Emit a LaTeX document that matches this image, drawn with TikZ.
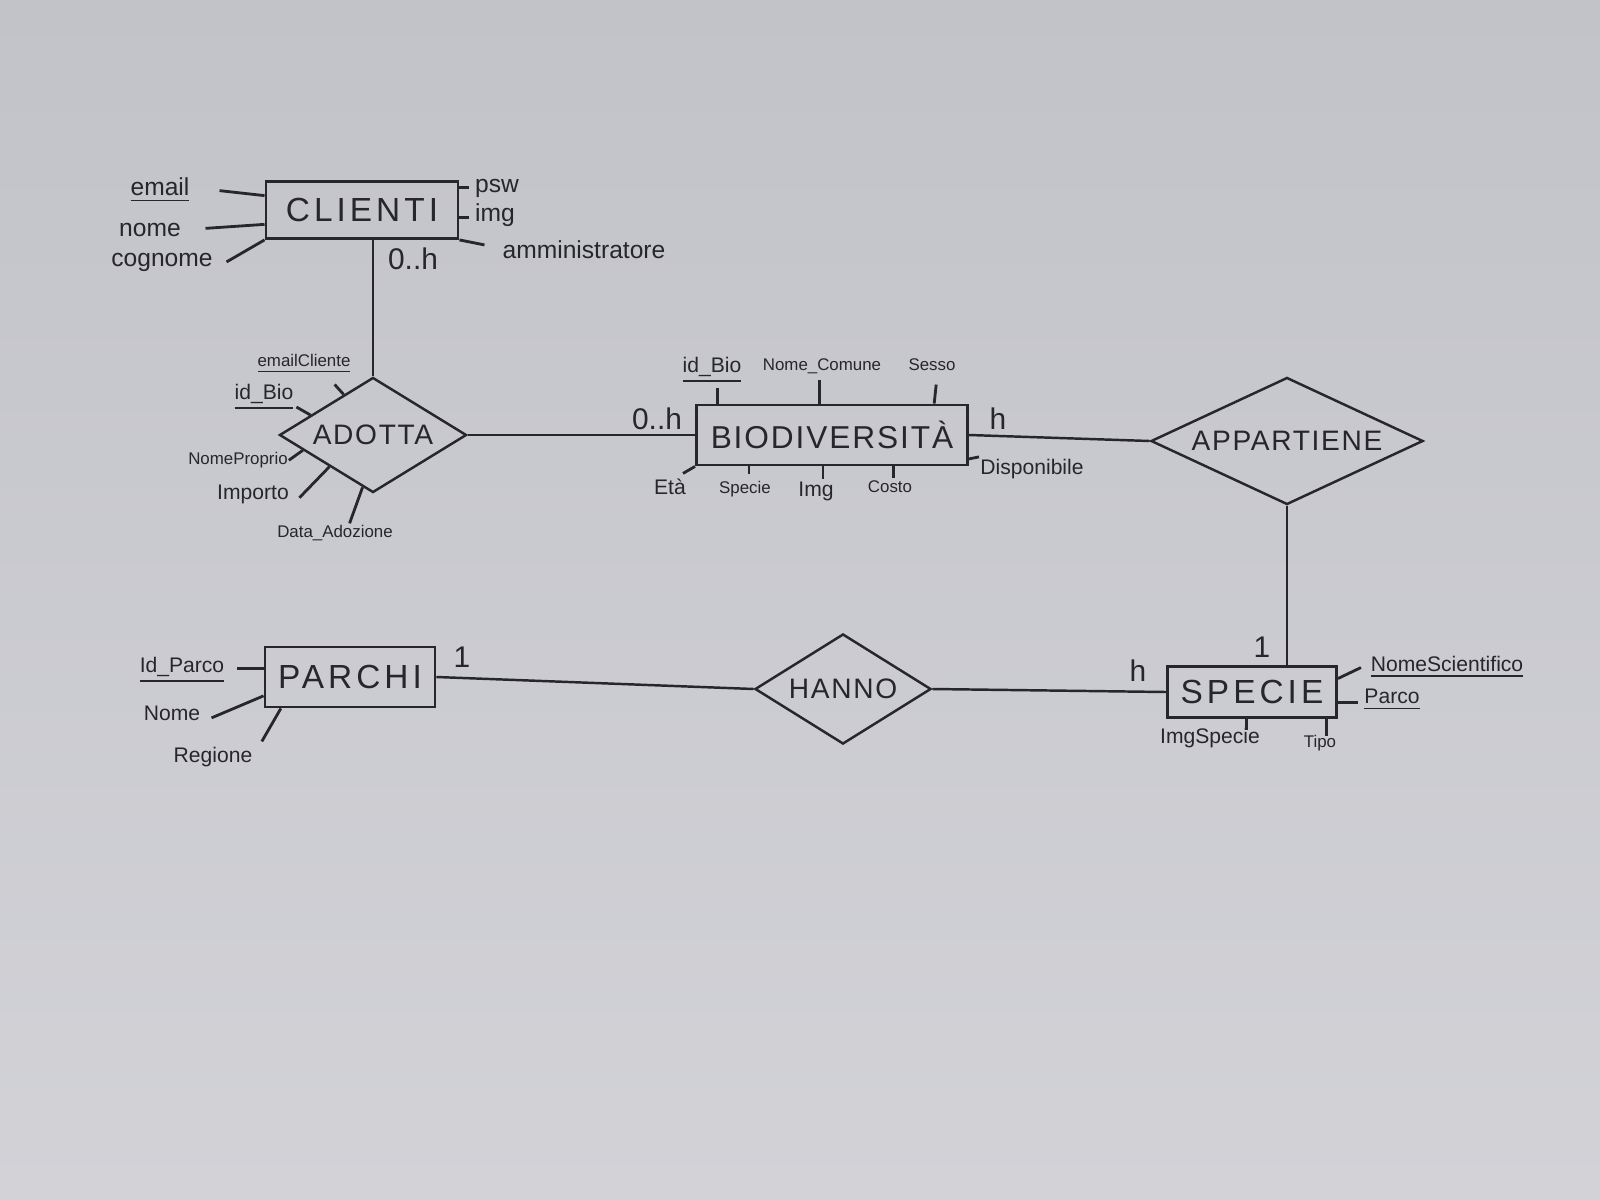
\documentclass[tikz,border=0pt]{standalone}
\usepackage{fontspec}
\setmainfont{Liberation Sans}
\newfontfamily\capsfont[LetterSpace=12]{Liberation Sans}
\newfontfamily\relfont[LetterSpace=6]{Liberation Sans}
\usepackage{tikz}
\usetikzlibrary{shapes.geometric,calc}
\definecolor{papertop}{RGB}{194,195,201}
\definecolor{paperbot}{RGB}{210,210,215}
\definecolor{ink}{RGB}{38,38,44}

\begin{document}
\begin{tikzpicture}[x=0.01cm, y=-0.01cm, color=ink,
  ent/.style={draw, line width=0.8pt, inner sep=0pt, font=\capsfont\fontsize{9.5}{11}\selectfont},
  rel/.style={draw, diamond, aspect=2.2, inner sep=0pt, line width=0.7pt, font=\relfont\fontsize{8}{10}\selectfont},
  att/.style={inner sep=0.5pt, font=\fontsize{6}{7}\selectfont},
  attL/.style={att, font=\fontsize{7}{8.5}\selectfont},
  attS/.style={att, font=\fontsize{4.8}{6}\selectfont},
  card/.style={inner sep=0pt, font=\fontsize{8.5}{10}\selectfont},
  tick/.style={line width=0.8pt},
  link/.style={line width=0.7pt}]
% sheet of paper
\shade[top color=papertop, bottom color=paperbot] (0,0) rectangle (1600,1200);

% entities and relations
\node[ent, minimum width=1.92cm, minimum height=0.57cm] (cli) at (362,210) {CLIENTI};
\node[ent, minimum width=2.71cm, minimum height=0.60cm, font=\relfont\fontsize{9}{11}\selectfont] (bio) at (832,435) {BIODIVERSITÀ};
\node[ent, minimum width=1.70cm, minimum height=0.60cm] (par) at (350,677) {PARCHI};
\node[ent, minimum width=1.69cm, minimum height=0.51cm] (spe) at (1252,692) {SPECIE};
\node[rel, minimum width=1.87cm, minimum height=1.15cm] (ado) at (373,435) {ADOTTA};
\node[rel, minimum width=2.72cm, minimum height=1.27cm] (app) at (1287,441) {APPARTIENE};
\node[rel, minimum width=1.76cm, minimum height=1.10cm] (han) at (843,689) {HANNO};

\draw[link] (cli.south -| ado.north) -- (ado.north);
\draw[link] (ado.east) -- (bio.west);
\draw[link] (bio.east) -- (app.west);
\draw[link] (app.south) -- (app.south |- spe.north);
\draw[link] (par.east) -- (han.west);
\draw[link] (han.east) -- (spe.west);

% cardinalities
\node[card] (k-cli) at (413,259) {0..h};
\node[card] (k-bio1) at (657,419) {0..h};
\node[card] (k-bio2) at (998,419) {h};
\node[card] (k-spe1) at (1262,647) {1};
\node[card] (k-spe2) at (1138,671) {h};
\node[card] (k-par) at (462,657) {1};

% CLIENTI
\draw[tick] ($(cli.north west)!0.26!(cli.south west)$) -- ++(-45,-5) coordinate (t-email);
\draw[tick] ($(cli.north west)!0.74!(cli.south west)$) -- ++(-59,4) coordinate (t-nome);
\draw[tick] (cli.south west) -- ++(-38,22) coordinate (t-cognome);
\draw[tick] ($(cli.north east)!0.12!(cli.south east)$) -- ++(10,0) coordinate (t-psw);
\draw[tick] ($(cli.north east)!0.63!(cli.south east)$) -- ++(10,0) coordinate (t-img);
\draw[tick] (cli.south east) -- ++(25,5) coordinate (t-admin);
\node[attL] (a-email) at (160,190) {\underline{email}};
\node[attL] (a-nome) at (150,230) {nome};
\node[attL] (a-cognome) at (162,262) {cognome};
\node[attL] (a-psw) at (497,188) {psw};
\node[attL] (a-img) at (495,215) {img};
\node[attL] (a-admin) at (584,250) {amministratore};

% ADOTTA
\draw[tick] ($(ado.west)!0.69!(ado.north)$) -- ++(-9,-10) coordinate (t-emailcl);
\draw[tick] ($(ado.west)!0.34!(ado.north)$) -- ++(-14,-8) coordinate (t-idbio);
\draw[tick] ($(ado.west)!0.26!(ado.south)$) -- ++(-14,10) coordinate (t-nomepr);
\draw[tick] ($(ado.west)!0.54!(ado.south)$) -- ++(-30,31) coordinate (t-importo);
\draw[tick] ($(ado.west)!0.89!(ado.south)$) -- ++(-13,36) coordinate (t-data);
\node[attS] (a-emailcl) at (304,364) {\underline{emailCliente}};
\node[att] (a-idbio) at (264,397) {\underline{id\_Bio}};
\node[attS] (a-nomepr) at (238,460) {NomeProprio};
\node[att] (a-importo) at (253,494) {Importo};
\node[attS] (a-data) at (335,533) {Data\_Adozione};

% BIODIVERSITA
\draw[tick] ($(bio.north west)!0.083!(bio.north east)$) -- ++(0,-16) coordinate (t-idb);
\draw[tick] ($(bio.north west)!0.455!(bio.north east)$) -- ++(0,-24) coordinate (t-nomec);
\draw[tick] ($(bio.north west)!0.873!(bio.north east)$) -- ++(2,-19) coordinate (t-sesso);
\draw[tick] (bio.south west) -- ++(-12,7) coordinate (t-eta);
\draw[tick] ($(bio.south west)!0.197!(bio.south east)$) -- ++(0,8) coordinate (t-specie);
\draw[tick] ($(bio.south west)!0.467!(bio.south east)$) -- ++(0,13) coordinate (t-imgb);
\draw[tick] ($(bio.south west)!0.725!(bio.south east)$) -- ++(0,12) coordinate (t-costo);
\draw[tick] ($(bio.north east)!0.88!(bio.south east)$) -- ++(10,-2) coordinate (t-disp);
\node[att] (a-idb) at (712,370) {\underline{id\_Bio}};
\node[attS] (a-nomec) at (822,366) {Nome\_Comune};
\node[attS] (a-sesso) at (932,365) {Sesso};
\node[att] (a-eta) at (670,487) {Età};
\node[attS] (a-specie) at (745,489) {Specie};
\node[att] (a-imgb) at (816,491) {Img};
\node[attS] (a-costo) at (890,487) {Costo};
\node[att] (a-disp) at (1032,469) {Disponibile};

% SPECIE
\draw[tick] ($(spe.north east)!0.25!(spe.south east)$) -- ++(23,-11) coordinate (t-nomesc);
\draw[tick] ($(spe.north east)!0.69!(spe.south east)$) -- ++(20,0) coordinate (t-parco);
\draw[tick] ($(spe.south west)!0.47!(spe.south east)$) -- ++(0,11) coordinate (t-imgsp);
\draw[tick] ($(spe.south west)!0.935!(spe.south east)$) -- ++(0,17) coordinate (t-tipo);
\node[att] (a-nomesc) at (1447,667) {\underline{NomeScientifico}};
\node[att] (a-parco) at (1392,700) {\underline{Parco}};
\node[att] (a-imgsp) at (1210,738) {ImgSpecie};
\node[attS] (a-tipo) at (1320,743) {Tipo};

% PARCHI
\draw[tick] ($(par.north west)!0.37!(par.south west)$) -- ++(-27,0) coordinate (t-idp);
\draw[tick] ($(par.north west)!0.8!(par.south west)$) -- ++(-52,22) coordinate (t-nomep);
\draw[tick] ($(par.south west)!0.1!(par.south east)$) -- ++(-19,33) coordinate (t-regione);
\node[att] (a-idp) at (182,670) {\underline{Id\_Parco}};
\node[att] (a-nomep) at (172,713) {Nome};
\node[att] (a-regione) at (213,757) {Regione};
\end{tikzpicture}
\end{document}
